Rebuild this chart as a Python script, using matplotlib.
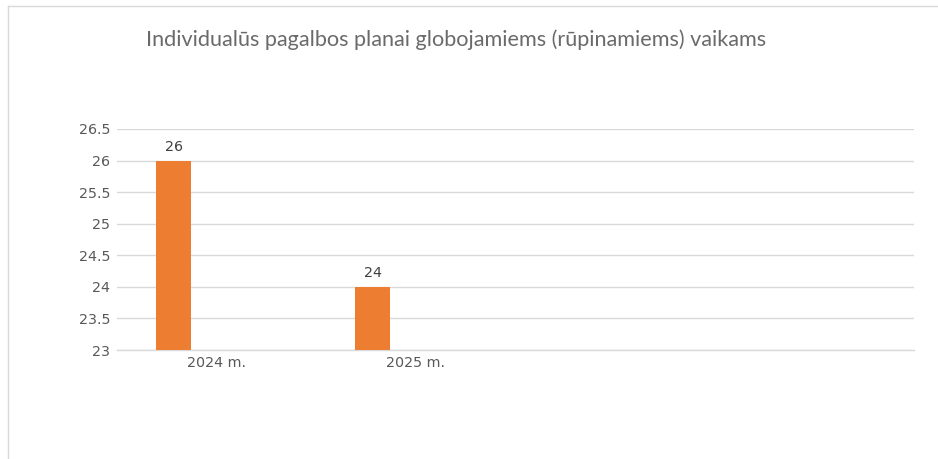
import matplotlib
matplotlib.use("Agg")
import matplotlib.pyplot as plt
from matplotlib.lines import Line2D

categories = ["2024 m.", "2025 m.", "", ""]
values = [26, 24]
yticks = [23, 23.5, 24, 24.5, 25, 25.5, 26, 26.5]
title = "Individualūs pagalbos planai globojamiems (rūpinamiems) vaikams"

W, H = 938, 459
fig = plt.figure(figsize=(W / 100, H / 100), dpi=100)
ax = fig.add_axes([117 / W, 1 - 350 / H, (914 - 117) / W, (350 - 129) / H])

offset = -0.216
width = 0.176
xs = [i + offset for i in range(len(values))]
bars = ax.bar(xs, [v - 23 for v in values], bottom=23, width=width, color="#ED7D31", zorder=3)
for x, v in zip(xs, values):
    ax.annotate(str(v), (x, v), xytext=(0, 5), textcoords="offset points",
                ha="center", va="bottom", fontsize=10.3, color="#404040")

ax.set_xlim(-0.5, len(categories) - 0.5)
ax.set_ylim(23, 26.5)
ax.set_yticks(yticks)
ax.set_yticklabels([f"{t:g}" for t in yticks])
ax.set_xticks(range(len(categories)))
ax.set_xticklabels(categories)
ax.tick_params(axis="both", length=0, labelsize=10.3, labelcolor="#595959")
ax.tick_params(axis="y", pad=5)
ax.tick_params(axis="x", pad=4)
ax.grid(axis="y", color="#d9d9d9", linewidth=1, zorder=0)
for s in ["top", "right", "left"]:
    ax.spines[s].set_visible(False)
ax.spines["bottom"].set_color("#d9d9d9")
ax.spines["bottom"].set_linewidth(1)

fig.text(456 / W, 1 - 40 / H, title, ha="center", va="center",
         fontsize=15.6, color="#6a6a6a", family=["Lato", "DejaVu Sans"])

# chart border (left and top visible)
fig.add_artist(Line2D([8 / W, 8 / W], [0, 1 - 6 / H], transform=fig.transFigure, color="#d9d9d9", linewidth=1))
fig.add_artist(Line2D([8 / W, 1], [1 - 6 / H, 1 - 6 / H], transform=fig.transFigure, color="#d9d9d9", linewidth=1))

fig.savefig("out.png", dpi=100)
